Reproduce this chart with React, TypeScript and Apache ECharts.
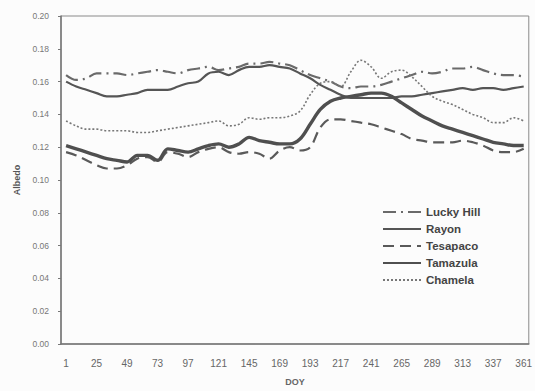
import React, { useEffect, useRef } from "react";
import * as echarts from "echarts";

const days = [1, 9, 17, 25, 33, 41, 49, 57, 65, 73, 81, 89, 97, 105, 113, 121, 129, 137, 145, 153, 161, 169, 177, 185, 193, 201, 209, 217, 225, 233, 241, 249, 257, 265, 273, 281, 289, 297, 305, 313, 321, 329, 337, 345, 353, 361];

const luckyHill = [0.164, 0.161, 0.162, 0.165, 0.165, 0.165, 0.164, 0.165, 0.166, 0.167, 0.166, 0.165, 0.167, 0.168, 0.169, 0.167, 0.168, 0.169, 0.171, 0.171, 0.172, 0.171, 0.170, 0.167, 0.164, 0.162, 0.160, 0.157, 0.156, 0.157, 0.157, 0.158, 0.160, 0.162, 0.164, 0.166, 0.165, 0.166, 0.168, 0.168, 0.169, 0.167, 0.165, 0.164, 0.164, 0.163];
const rayon = [0.160, 0.157, 0.155, 0.153, 0.151, 0.151, 0.152, 0.153, 0.155, 0.155, 0.155, 0.157, 0.159, 0.160, 0.165, 0.166, 0.164, 0.167, 0.169, 0.169, 0.170, 0.169, 0.168, 0.165, 0.162, 0.158, 0.155, 0.152, 0.150, 0.150, 0.150, 0.150, 0.150, 0.151, 0.151, 0.152, 0.153, 0.154, 0.155, 0.156, 0.155, 0.156, 0.156, 0.155, 0.156, 0.157];
const tesapaco = [0.117, 0.115, 0.112, 0.109, 0.107, 0.107, 0.109, 0.113, 0.114, 0.111, 0.117, 0.116, 0.114, 0.117, 0.119, 0.120, 0.117, 0.116, 0.117, 0.116, 0.113, 0.118, 0.120, 0.118, 0.120, 0.132, 0.137, 0.137, 0.136, 0.135, 0.134, 0.132, 0.130, 0.128, 0.125, 0.124, 0.123, 0.123, 0.123, 0.124, 0.123, 0.121, 0.118, 0.117, 0.117, 0.119];
const tamazula = [0.121, 0.119, 0.117, 0.115, 0.113, 0.112, 0.111, 0.115, 0.115, 0.112, 0.119, 0.118, 0.117, 0.119, 0.121, 0.122, 0.120, 0.122, 0.126, 0.124, 0.123, 0.122, 0.122, 0.125, 0.134, 0.143, 0.148, 0.150, 0.151, 0.152, 0.153, 0.153, 0.151, 0.147, 0.143, 0.139, 0.136, 0.133, 0.131, 0.129, 0.127, 0.125, 0.123, 0.122, 0.121, 0.121];
const chamela = [0.136, 0.133, 0.131, 0.131, 0.130, 0.130, 0.130, 0.129, 0.129, 0.130, 0.131, 0.132, 0.133, 0.134, 0.135, 0.136, 0.133, 0.134, 0.138, 0.137, 0.138, 0.138, 0.139, 0.142, 0.152, 0.159, 0.160, 0.157, 0.166, 0.173, 0.169, 0.162, 0.166, 0.167, 0.163, 0.157, 0.151, 0.148, 0.146, 0.143, 0.140, 0.138, 0.135, 0.135, 0.138, 0.136];

const seriesNames = ["Lucky Hill", "Rayon", "Tesapaco", "Tamazula", "Chamela"];

export default function App() {
  const ref = useRef<HTMLDivElement>(null);
  useEffect(() => {
    if (!ref.current) return;
    const chart = echarts.init(ref.current, undefined, { renderer: "svg" });
    const font = "Liberation Sans, Arial, sans-serif";
    const mk = (name: string, data: number[], color: string, width: number, type: any) => ({
      name,
      type: "line",
      data,
      symbol: "none",
      showSymbol: false,
      smooth: 0.35,
      lineStyle: { color, width, type },
      itemStyle: { color },
    });
    chart.setOption({
      animation: false,
      backgroundColor: "#fcfcfc",
      grid: { left: 61, right: 2, top: 16, bottom: 47, show: true, borderColor: "#8a8a8a", borderWidth: 1, backgroundColor: "transparent" },
      legend: {
        orient: "vertical",
        left: 377,
        top: 201,
        itemWidth: 38,
        itemHeight: 14,
        itemGap: 5,
        data: seriesNames,
        itemStyle: { opacity: 0 },
        textStyle: { fontFamily: font, fontSize: 11.5, fontWeight: "bold", color: "#444" },
      },
      xAxis: {
        type: "category",
        data: days,
        boundaryGap: true,
        name: "DOY",
        nameLocation: "middle",
        nameGap: 33,
        nameTextStyle: { fontFamily: font, fontSize: 9, fontWeight: "bold", color: "#666" },
        axisLine: { lineStyle: { color: "#777", width: 1.5 } },
        axisTick: { interval: 0, length: 3, lineStyle: { color: "#777" } },
        axisLabel: { interval: 2, margin: 14, fontFamily: font, fontSize: 10, color: "#666" },
        splitLine: { show: false },
      },
      yAxis: {
        type: "value",
        min: 0,
        max: 0.2,
        interval: 0.02,
        name: "Albedo",
        nameLocation: "middle",
        nameGap: 40,
        nameRotate: 90,
        nameTextStyle: { fontFamily: font, fontSize: 9, fontWeight: "bold", color: "#555" },
        axisLine: { show: true, lineStyle: { color: "#777", width: 1.5 } },
        axisTick: { show: true, length: 3, lineStyle: { color: "#777" } },
        axisLabel: { margin: 12, fontFamily: font, fontSize: 8.5, color: "#777", formatter: (v: number) => v.toFixed(2) },
        splitLine: { show: false },
      },
      series: [
        mk("Lucky Hill", luckyHill, "#6a6a6a", 2.2, [13, 5, 2, 5]),
        mk("Rayon", rayon, "#555", 2.2, "solid"),
        mk("Tesapaco", tesapaco, "#5a5a5a", 2.2, [11, 6]),
        mk("Tamazula", tamazula, "#4f4f4f", 3.4, "solid"),
        mk("Chamela", chamela, "#777", 1.6, [2, 2]),
      ],
    });
    return () => chart.dispose();
  }, []);
  return <div ref={ref} style={{ position: "fixed", left: 0, top: 0, width: 535, height: 391 }} />;
}
